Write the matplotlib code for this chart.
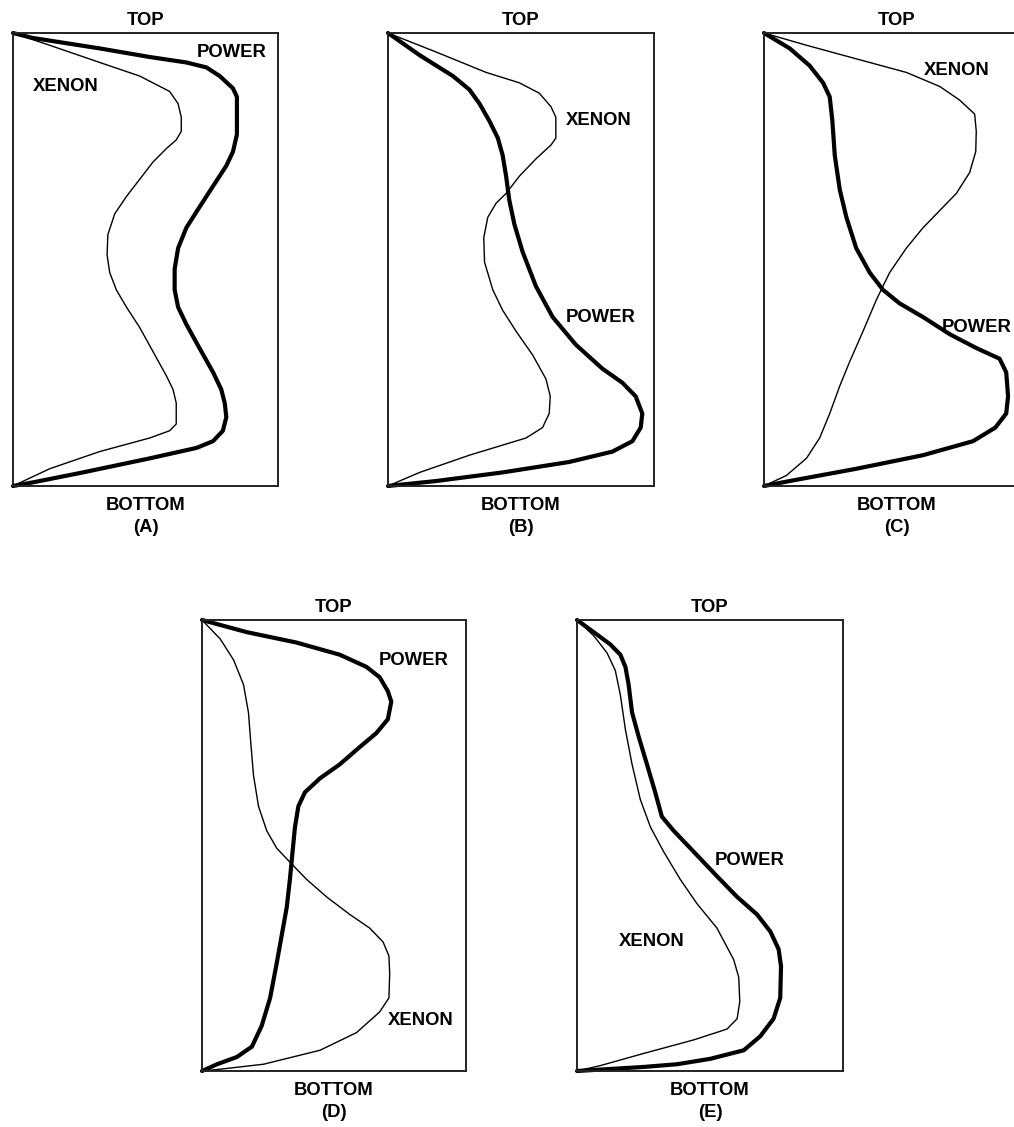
import matplotlib
matplotlib.use("Agg")
import matplotlib.pyplot as plt

# Each curve: x = relative value (% of box width), d = axial depth (% from top)
A_power_x = [0, 7.5, 32.7, 51.6, 65.4, 73.0, 78.0, 83.0, 84.5, 84.5, 84.5, 83.0, 80.5, 75.5, 70.4, 65.4, 62.3, 61.0, 61.0, 62.3, 65.4, 70.4, 75.5, 78.6, 79.9, 80.5, 79.2, 75.5, 69.2, 51.6, 26.4, 7.5, 0]
A_power_d = [0, 1.1, 3.4, 5.3, 6.5, 7.6, 9.5, 12.2, 14.1, 17.9, 22.4, 26.2, 29.3, 33.8, 38.4, 43.0, 47.5, 52.1, 56.7, 60.5, 64.3, 69.6, 74.9, 78.7, 81.7, 84.8, 87.8, 90.1, 91.6, 93.9, 97.0, 99.2, 100]
A_xenon_x = [0, 13.8, 32.7, 47.8, 59.1, 62.3, 63.5, 63.5, 61.6, 57.9, 52.8, 47.8, 42.8, 38.4, 35.8, 35.5, 36.5, 39.0, 42.8, 47.8, 52.8, 57.9, 60.4, 61.6, 61.6, 59.1, 51.6, 32.7, 13.8, 0]
A_xenon_d = [0, 2.7, 6.5, 9.5, 12.9, 15.6, 18.6, 21.7, 23.6, 25.5, 28.5, 32.3, 36.1, 39.9, 44.5, 49.0, 52.9, 56.7, 60.5, 65.0, 70.3, 75.7, 78.7, 81.7, 86.3, 87.8, 89.4, 92.4, 96.2, 100]

B_power_x = [0, 11.9, 24.4, 30.6, 34.4, 38.1, 41.3, 43.1, 44.4, 45.6, 47.5, 50.6, 55.6, 61.9, 70.6, 80.6, 88.1, 93.1, 95.6, 95.0, 91.9, 84.4, 68.1, 43.1, 18.1, 0]
B_power_d = [0, 4.9, 9.5, 12.5, 15.6, 19.4, 23.2, 27.0, 31.6, 36.9, 42.2, 48.3, 55.9, 62.7, 68.8, 74.1, 77.2, 80.2, 84.0, 87.1, 90.1, 92.4, 94.7, 97.0, 98.9, 100]
B_xenon_x = [0, 18.1, 36.9, 49.4, 56.9, 61.3, 63.1, 63.1, 61.3, 55.6, 49.4, 44.4, 40.6, 37.5, 36.0, 36.3, 39.4, 43.1, 48.1, 54.4, 59.4, 61.0, 60.6, 58.1, 51.9, 30.6, 11.9, 0]
B_xenon_d = [0, 4.2, 8.7, 11.0, 13.3, 16.3, 18.6, 23.2, 24.7, 27.8, 31.6, 35.4, 37.6, 40.7, 45.2, 50.6, 56.7, 61.2, 65.8, 71.1, 76.4, 80.2, 84.0, 87.1, 89.4, 93.2, 97.0, 100]

C_power_x = [0, 9.7, 17.2, 22.3, 24.8, 25.8, 26.7, 28.6, 31.1, 34.8, 39.9, 44.9, 51.2, 60.0, 70.1, 80.3, 88.9, 91.4, 92.1, 91.4, 87.3, 78.9, 60.0, 34.8, 9.7, 0]
C_power_d = [0, 3.4, 7.2, 11.0, 14.1, 19.4, 27.0, 34.6, 40.7, 47.5, 52.9, 56.7, 59.7, 62.7, 66.5, 69.6, 71.9, 74.9, 80.2, 84.0, 87.1, 90.1, 93.2, 96.2, 98.9, 100]
C_xenon_x = [0, 16.0, 34.8, 53.7, 66.3, 73.8, 79.5, 80.1, 79.9, 77.6, 72.6, 66.3, 60.0, 53.7, 47.4, 42.4, 37.4, 32.3, 28.6, 24.8, 21.0, 16.0, 8.4, 0]
C_xenon_d = [0, 2.7, 5.7, 8.7, 11.8, 14.8, 17.9, 21.7, 26.2, 30.8, 35.4, 39.2, 43.0, 47.5, 52.9, 58.9, 65.8, 72.6, 77.9, 84.0, 89.4, 93.9, 97.7, 100]

D_power_x = [0, 17.0, 35.8, 52.2, 62.3, 67.3, 70.4, 71.7, 70.4, 66.0, 59.7, 52.2, 44.7, 39.0, 36.5, 35.2, 34.3, 33.3, 32.1, 30.2, 28.3, 25.8, 22.6, 18.9, 13.2, 5.7, 0]
D_power_d = [0, 2.7, 5.0, 7.7, 10.4, 12.7, 15.8, 18.1, 22.0, 25.1, 28.2, 32.0, 35.1, 38.2, 41.3, 46.0, 51.4, 57.5, 63.7, 69.9, 76.1, 83.8, 90.0, 94.6, 96.9, 98.5, 100]
D_xenon_x = [0, 6.9, 12.0, 15.7, 17.6, 18.5, 19.5, 21.4, 24.5, 28.3, 33.3, 39.6, 47.2, 56.0, 63.5, 68.6, 70.8, 71.1, 70.8, 67.3, 58.5, 44.7, 23.3, 6.9, 0]
D_xenon_d = [0, 4.2, 8.9, 14.3, 20.5, 27.4, 34.4, 41.3, 46.7, 50.6, 53.7, 57.5, 61.4, 65.3, 68.3, 71.4, 74.5, 78.4, 83.8, 86.9, 91.5, 95.4, 98.5, 99.6, 100]

E_power_x = [0, 6.3, 12.5, 16.3, 18.2, 19.4, 20.7, 23.2, 26.3, 29.4, 31.9, 36.3, 43.9, 52.6, 60.2, 67.7, 72.7, 75.8, 76.7, 76.4, 73.9, 68.9, 62.7, 50.1, 37.6, 25.1, 0]
E_power_d = [0, 2.7, 5.4, 7.7, 10.4, 14.3, 20.5, 25.9, 32.0, 38.2, 43.6, 46.7, 51.4, 56.8, 61.4, 65.3, 69.1, 73.0, 76.8, 83.8, 88.4, 92.3, 95.4, 97.3, 98.5, 99.1, 100]
E_xenon_x = [0, 6.3, 11.3, 14.4, 16.3, 18.2, 20.7, 23.8, 27.6, 32.6, 38.8, 45.1, 52.6, 58.9, 60.8, 61.2, 60.2, 56.4, 43.9, 25.1, 8.8, 0]
E_xenon_d = [0, 3.5, 7.3, 11.2, 16.6, 24.3, 32.0, 39.8, 45.9, 51.4, 57.5, 62.9, 68.3, 75.3, 79.2, 84.6, 88.4, 90.7, 93.1, 96.1, 98.8, 100]

panel_names = ["(A)", "(B)", "(C)", "(D)", "(E)"]
top_label = "TOP"
bottom_label = "BOTTOM"
# label positions (x %, depth %)
power_label_pos = [(82.6, 4.2), (80.1, 62.9), (93.4, 65.1), (80.0, 8.9), (65.0, 53.4)]
xenon_label_pos = [(20.0, 11.8), (79.4, 19.4), (72.8, 8.2), (83.0, 88.9), (28.2, 71.2)]

W, H = 1014, 1127
fig = plt.figure(figsize=(W / 100, H / 100), dpi=100)
plt.rcParams['font.family'] = ['Liberation Sans', 'DejaVu Sans']

boxes = [(13, 33, 265, 453), (388, 33, 266, 453), (764, 33, 265, 453),
         (202, 620, 264, 451), (577, 620, 266, 451)]

curves = [
    (A_power_x, A_power_d, A_xenon_x, A_xenon_d),
    (B_power_x, B_power_d, B_xenon_x, B_xenon_d),
    (C_power_x, C_power_d, C_xenon_x, C_xenon_d),
    (D_power_x, D_power_d, D_xenon_x, D_xenon_d),
    (E_power_x, E_power_d, E_xenon_x, E_xenon_d),
]

fs = 13.3
for i, ((l, t, w, h), (px, pd, xx, xd)) in enumerate(zip(boxes, curves)):
    ax = fig.add_axes([l / W, 1 - (t + h) / H, w / W, h / H])
    ax.plot(xx, xd, color='black', lw=1.0, solid_joinstyle='round', clip_on=False)
    ax.plot(px, pd, color='black', lw=3.0, solid_joinstyle='round',
            solid_capstyle='round', clip_on=False)
    ax.set_xlim(0, 100)
    ax.set_ylim(100, 0)
    ax.set_xticks([])
    ax.set_yticks([])
    for s in ax.spines.values():
        s.set_linewidth(1.4)
        s.set_color('#222222')
    ax.text(0.5, 1.028, top_label, transform=ax.transAxes, ha='center', va='center',
            fontsize=fs, fontweight='bold')
    ax.text(0.5, -0.044, bottom_label, transform=ax.transAxes, ha='center', va='center',
            fontsize=fs, fontweight='bold')
    ax.text(0.5, -0.091, panel_names[i], transform=ax.transAxes, ha='center', va='center',
            fontsize=fs, fontweight='bold')
    ppx, ppd = power_label_pos[i]
    ha = 'right' if i == 2 else 'center'
    ax.text(ppx, ppd, "POWER", ha=ha, va='center', fontsize=fs, fontweight='bold',
            clip_on=False)
    xpx, xpd = xenon_label_pos[i]
    ax.text(xpx, xpd, "XENON", ha='center', va='center', fontsize=fs, fontweight='bold',
            clip_on=False)

fig.savefig("out.png", dpi=100)
